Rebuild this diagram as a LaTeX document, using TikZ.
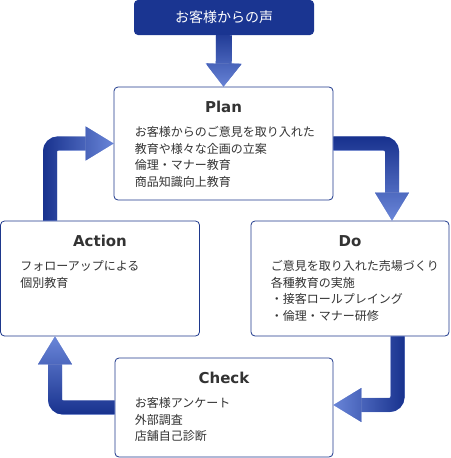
\documentclass[tikz,border=0pt]{standalone}
\usepackage{fontspec}
\newfontfamily\jpfont{Noto Sans CJK JP}
\newfontfamily\headfont{DejaVu Sans}
\usetikzlibrary{arrows.meta,positioning,fadings}

\definecolor{navy}{RGB}{26,53,145}
\definecolor{arrowdark}{RGB}{24,50,142}
\definecolor{arrowlight}{RGB}{114,142,224}
\definecolor{boxline}{RGB}{30,56,140}
\definecolor{txt}{RGB}{51,51,51}

\tikzfading[name=toeast, left color=transparent!0, right color=transparent!100]
\tikzfading[name=towest, left color=transparent!100, right color=transparent!0]
\tikzfading[name=tosouth, top color=transparent!0, bottom color=transparent!100]
\tikzfading[name=tonorth, top color=transparent!100, bottom color=transparent!0]

\begin{document}
\begin{tikzpicture}[x=1pt,y=-1pt,
	header/.style={fill=navy, rounded corners=4pt, text=white, font=\jpfont\fontsize{14}{16}\selectfont, minimum width=180pt, minimum height=35pt, inner sep=0pt},
	box/.style={draw=boxline, line width=0.8pt, rounded corners=4pt, fill=white, inner sep=0pt},
	heading/.style={font=\headfont\bfseries\fontsize{15}{17}\selectfont, text=txt, inner sep=0pt},
	body/.style={font=\jpfont\fontsize{12}{16.4}\selectfont, text=txt, align=left, inner sep=0pt},
	flow/.style={line width=14pt, rounded corners=8pt, -{Triangle[width=34pt,length=28pt,line width=0.1pt]}},
	flowlight/.style={flow, draw=arrowlight},
	flowdark/.style={flow, draw=arrowdark, path fading=#1}]

	\useasboundingbox (0,0) rectangle (450,458);

	% boxes
	\node (voice) [header] at (224,17.5) {お客様からの声};
	\node (plan) [box, minimum width=219pt, minimum height=113pt] at (223.5,143.5) {};
	\node (action) [box, minimum width=199pt, minimum height=115pt] at (100,278.5) {};
	\node (do) [box, minimum width=198pt, minimum height=115pt] at (350,278.5) {};
	\node (check) [box, minimum width=218pt, minimum height=99pt] at (224,407.5) {};

	% titles
	\node (plantitle) [heading, below=14.5pt of plan.north] {Plan};
	\node (actiontitle) [heading, below=14.5pt of action.north] {Action};
	\node (dotitle) [heading, below=14.5pt of do.north] {Do};
	\node (checktitle) [heading, below=14.5pt of check.north] {Check};

	% texts
	\node (plantext) [body, below right=40pt and 21pt of plan.north west] {お客様からのご意見を取り入れた\\教育や様々な企画の立案\\倫理・マナー教育\\商品知識向上教育};
	\node (actiontext) [body, below right=40pt and 20pt of action.north west] {フォローアップによる\\個別教育};
	\node (dotext) [body, below right=40pt and 20pt of do.north west] {ご意見を取り入れた売場づくり\\各種教育の実施\\・接客ロールプレイング\\・倫理・マナー研修};
	\node (checktext) [body, below right=40pt and 20pt of check.north west] {お客様アンケート\\外部調査\\店舗自己診断};

	% arrows
	\draw [flowlight, line width=16pt, -{Triangle[width=36pt,length=23pt,line width=0.1pt]}] (voice.south) -- (plan.north);
	\draw [flowdark=tosouth, line width=16pt, -{Triangle[width=36pt,length=23pt,line width=0.1pt]}] (voice.south) -- (plan.north);

	\draw [flowlight] (plan.east) -| ([xshift=42pt]do.north);
	\draw [flowdark=tosouth] (plan.east) -| ([xshift=42pt]do.north);

	\draw [flowlight] ([xshift=47.5pt]do.south) |- ([yshift=2.5pt]check.east);
	\draw [flowdark=towest] ([xshift=47.5pt]do.south) |- ([yshift=2.5pt]check.east);

	\draw [flowlight] (check.west) -| ([xshift=-45pt]action.south);
	\draw [flowdark=tonorth] (check.west) -| ([xshift=-45pt]action.south);

	\draw [flowlight] ([xshift=-50pt]action.north) |- (plan.west);
	\draw [flowdark=toeast] ([xshift=-50pt]action.north) |- (plan.west);

\end{tikzpicture}
\end{document}
